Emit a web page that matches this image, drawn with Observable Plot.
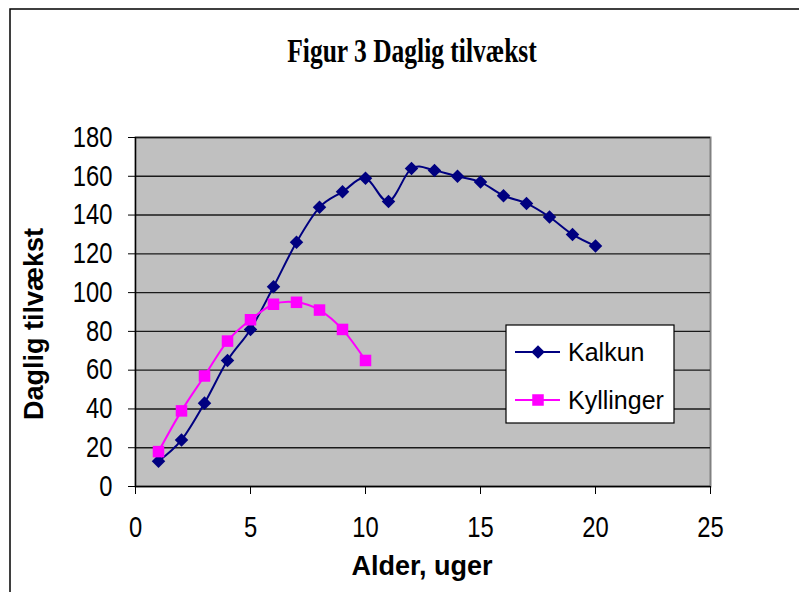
<!DOCTYPE html>
<html><head><meta charset="utf-8">
<script src="https://cdn.jsdelivr.net/npm/d3@7"></script>
<script src="https://cdn.jsdelivr.net/npm/@observablehq/plot@0.6"></script>
<style>body{margin:0;background:#fff} svg{display:block}</style>
</head><body><div id="chart"></div>
<script>
const title = "Figur 3 Daglig tilvækst";
const xLabel = "Alder, uger";
const yLabel = "Daglig tilvækst";
const seriesNames = ["Kalkun", "Kyllinger"];
const seriesColors = ["#000080", "#ff00ff"];
const kalkunWeeks = [1,2,3,4,5,6,7,8,9,10,11,12,13,14,15,16,17,18,19,20];
const kalkunValues = [13,24,43,65,81,103,126,144,152,159,147,164,163,160,157,150,146,139,130,124];
const kyllingerWeeks = [1,2,3,4,5,6,7,8,9,10];
const kyllingerValues = [18,39,57,75,86,94,95,91,81,65];
const xTicks = [0,5,10,15,20,25];
const yTicks = [0,20,40,60,80,100,120,140,160,180];

const kalkun = kalkunWeeks.map((w,i)=>({serie: seriesNames[0], uge: w, value: kalkunValues[i]}));
const kyllinger = kyllingerWeeks.map((w,i)=>({serie: seriesNames[1], uge: w, value: kyllingerValues[i]}));

const W = 799, H = 592;
const rDiamond = 6.1, rSquare = 6.5;
const chart = Plot.plot({
  width: W, height: H,
  marginLeft: 135, marginRight: 89, marginTop: 137, marginBottom: 106,
  x: {domain: [0, 25]},
  y: {domain: [0, 180]},
  style: {fontFamily: "'Liberation Sans', Arial, sans-serif", fontSize: "29px", background: "white", overflow: "visible", color: "black"},
  marks: [
    Plot.frame({fill: "#c0c0c0", stroke: "#808080", strokeWidth: 2}),
    Plot.ruleY(yTicks.filter(d => d > 0), {stroke: "#1a1a1a", strokeWidth: 1.4}),
    Plot.ruleX([0], {stroke: "black", strokeWidth: 1.3}),
    Plot.ruleY([0], {stroke: "black", strokeWidth: 1.3}),
    Plot.axisY({ticks: yTicks, tickSize: 7, tickPadding: 16, label: null, fontSize: 29}),
    Plot.axisX({ticks: xTicks, tickSize: 8, tickPadding: 22, label: null, fontSize: 29}),
    Plot.line(kalkun, {x: "uge", y: "value", stroke: seriesColors[0], strokeWidth: 2, curve: "cardinal"}),
    Plot.dot(kalkun, {x: "uge", y: "value", symbol: "diamond2", r: rDiamond, fill: seriesColors[0], stroke: "none"}),
    Plot.line(kyllinger, {x: "uge", y: "value", stroke: seriesColors[1], strokeWidth: 2, curve: "cardinal"}),
    Plot.dot(kyllinger, {x: "uge", y: "value", symbol: "square", r: rSquare, fill: seriesColors[1], stroke: "none"})
  ]
});
document.getElementById("chart").appendChild(chart);

const svg = d3.select(chart);
// narrow the tick labels
svg.selectAll('g[aria-label="y-axis tick label"] text, g[aria-label="x-axis tick label"] text').each(function() {
  const t = this.getAttribute("transform") || "";
  this.setAttribute("transform", t + " scale(0.82,1)");
});

// outer chart border (top and left visible)
svg.append("rect").attr("x", 10).attr("y", 9).attr("width", 900).attr("height", 700)
  .attr("fill", "none").attr("stroke", "black").attr("stroke-width", 1.5);

// title
svg.append("text").attr("transform", "translate(412,62) scale(0.75,1)")
  .attr("text-anchor", "middle").attr("font-family", "'Liberation Serif', 'Times New Roman', serif")
  .attr("font-weight", "bold").attr("font-size", 34).text(title);

// axis titles
svg.append("text").attr("x", 422).attr("y", 575).attr("text-anchor", "middle")
  .attr("font-family", "'Liberation Sans', Arial, sans-serif").attr("font-weight", "bold")
  .attr("font-size", 27).text(xLabel);
svg.append("text").attr("transform", "translate(43,324) rotate(-90)").attr("text-anchor", "middle")
  .attr("font-family", "'Liberation Sans', Arial, sans-serif").attr("font-weight", "bold")
  .attr("font-size", 27).text(yLabel);

// legend
const lg = svg.append("g");
lg.append("rect").attr("x", 506).attr("y", 325).attr("width", 168).attr("height", 98)
  .attr("fill", "white").attr("stroke", "black").attr("stroke-width", 1.2);
const rows = [352, 400];
seriesNames.forEach((name, i) => {
  const y = rows[i];
  lg.append("line").attr("x1", 515).attr("x2", 560).attr("y1", y).attr("y2", y)
    .attr("stroke", seriesColors[i]).attr("stroke-width", 2);
  const sym = i === 0 ? d3.symbol(d3.symbolDiamond2, Math.PI * rDiamond * rDiamond)
                      : d3.symbol(d3.symbolSquare, Math.PI * rSquare * rSquare);
  lg.append("path").attr("d", sym()).attr("transform", `translate(538,${y})`).attr("fill", seriesColors[i]);
  lg.append("text").attr("x", 568).attr("y", y + 9).attr("text-anchor", "start")
    .attr("font-family", "'Liberation Sans', Arial, sans-serif")
    .attr("font-size", 25).text(name);
});
</script>
</body></html>
